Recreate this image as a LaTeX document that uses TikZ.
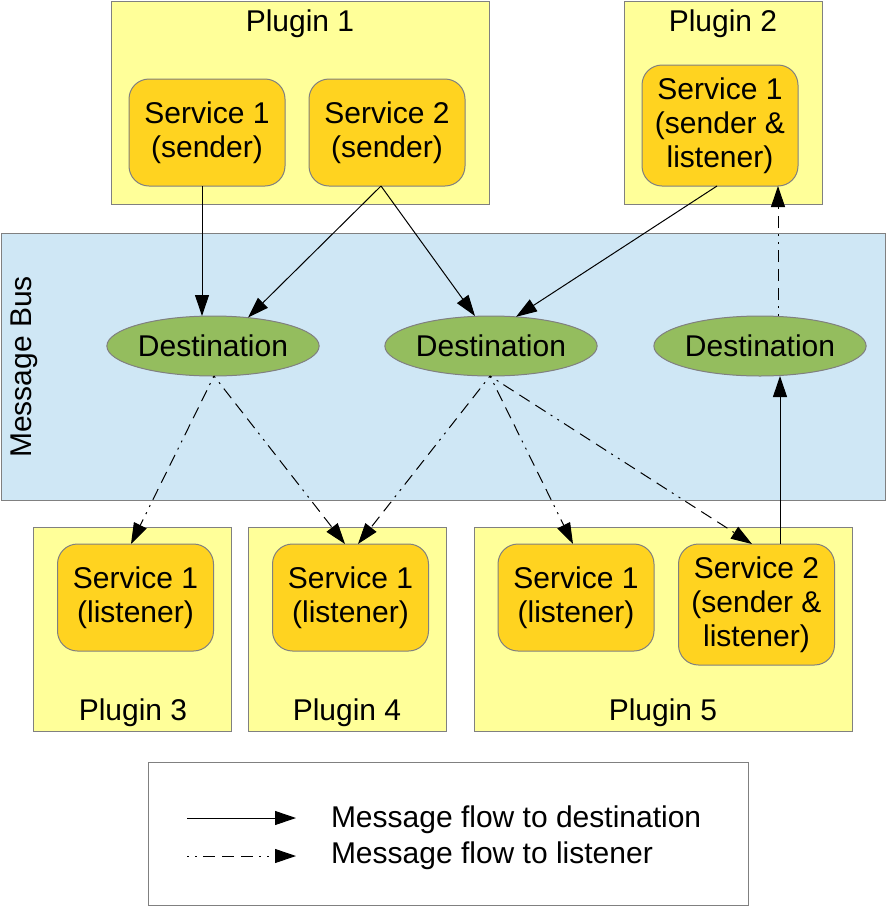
\documentclass[tikz,border=0pt]{standalone}
\usepackage{fontspec}
\setmainfont{Liberation Sans}
\usetikzlibrary{arrows.meta,shapes.geometric,calc}
\definecolor{plugy}{HTML}{FFFF99}
\definecolor{servy}{HTML}{FFD320}
\definecolor{destg}{HTML}{94BD5E}
\definecolor{busb}{HTML}{CFE7F5}
\definecolor{edgegray}{HTML}{808080}
\begin{document}
\begin{tikzpicture}[x=1pt,y=-1pt,
  every node/.style={inner sep=0pt, outer sep=0pt, font=\fontsize{30}{34}\selectfont},
  plugin/.style={draw=edgegray, fill=plugy, line width=1pt},
  service/.style={draw=edgegray, fill=servy, line width=1pt, rounded corners=20pt, align=center, minimum width=156pt},
  dest/.style={ellipse, draw=edgegray, fill=destg, line width=1pt, minimum width=211pt, minimum height=60pt},
  bus/.style={draw=edgegray, fill=busb, line width=1pt},
  flow/.style={-{Triangle[length=21pt,width=14pt]}, line width=1pt},
  lflow/.style={flow, dash pattern=on 2pt off 6pt on 2pt off 6pt on 12pt off 7pt on 12pt off 7pt on 12pt off 6pt},
]
\useasboundingbox (0,0) rectangle (887,906);

% message bus
\node[bus, minimum width=884pt, minimum height=267pt] (bus) at (443,366.5) {};
\node[rotate=90] (buslbl) at (24,367) {Message Bus};

% plugin 1
\node[plugin, minimum width=378pt, minimum height=203pt] (p1) at (300,102.5) {};
\node (p1t) at (300,23.5) {Plugin 1};
\node[service, minimum height=107pt] (s11) at (207,132.5) {Service 1\\(sender)};
\node[service, minimum height=107pt] (s12) at (387,132.5) {Service 2\\(sender)};

% plugin 2
\node[plugin, minimum width=198pt, minimum height=203pt] (p2) at (723,102.5) {};
\node (p2t) at (723,23.5) {Plugin 2};
\node[service, minimum height=121pt] (p2s) at (720,125.5) {Service 1\\(sender \&\\listener)};

% destinations
\node[dest] (d1) at (213,346) {Destination};
\node[dest] (d2) at (491,346) {Destination};
\node[dest] (d3) at (760,346) {Destination};

% plugin 3
\node[plugin, minimum width=198pt, minimum height=204pt] (p3) at (132,629) {};
\node[service, minimum height=107pt] (p3s) at (135.5,597.5) {Service 1\\(listener)};
\node (p3t) at (133,712.5) {Plugin 3};

% plugin 4
\node[plugin, minimum width=198pt, minimum height=204pt] (p4) at (347,629) {};
\node[service, minimum height=107pt] (p4s) at (350.5,597.5) {Service 1\\(listener)};
\node (p4t) at (347,712.5) {Plugin 4};

% plugin 5
\node[plugin, minimum width=378pt, minimum height=204pt] (p5) at (663,629) {};
\node[service, minimum height=107pt] (p5s1) at (576,597.5) {Service 1\\(listener)};
\node[service, minimum height=121pt] (p5s2) at (756.5,604.5) {Service 2\\(sender \&\\listener)};
\node (p5t) at (663,712.5) {Plugin 5};

% flows to destinations
\draw[flow] ([xshift=-5pt]s11.south) -- ([xshift=-11pt]d1.north);
\draw[flow] ([xshift=-6pt]s12.south) -- ([xshift=35pt,yshift=-1.5pt]d1.north);
\draw[flow] ([xshift=-6pt]s12.south) -- ([xshift=-16pt]d2.north);
\draw[flow] ([xshift=-3pt]p2s.south) -- ([xshift=25pt,yshift=-0.8pt]d2.north);
\draw[flow] ([xshift=23.5pt]p5s2.north) -- ([xshift=23.5pt]p5s2.north |- d3.south);

% flows to listeners
\draw[lflow] ([xshift=18pt]d3.north) -- ([xshift=18pt]d3.north |- p2s.south);
\draw[lflow] ([xshift=1pt]d1.south) -- ([xshift=-4.5pt]p3s.north);
\draw[lflow] ([xshift=1pt]d1.south) -- ([xshift=-5.5pt]p4s.north);
\draw[lflow] ([xshift=-1pt]d2.south) -- ([xshift=7.5pt]p4s.north);
\draw[lflow] ([xshift=-1pt]d2.south) -- ([xshift=-3pt]p5s1.north);
\draw[lflow] ([xshift=-1pt]d2.south) -- ([xshift=-4.5pt]p5s2.north);

% legend
\node[draw=edgegray, line width=1pt, minimum width=600pt, minimum height=143pt] (leg) at (448,833.5) {};
\coordinate (la1) at (187,818);
\coordinate (lb1) at (296,818);
\coordinate (la2) at (187,856);
\coordinate (lb2) at (296,856);
\draw[flow] (la1) -- (lb1);
\draw[lflow] (la2) -- (lb2);
\node[anchor=west] (lt1) at (331,820) {Message flow to destination};
\node[anchor=west] (lt2) at (331,856) {Message flow to listener};
\end{tikzpicture}
\end{document}
